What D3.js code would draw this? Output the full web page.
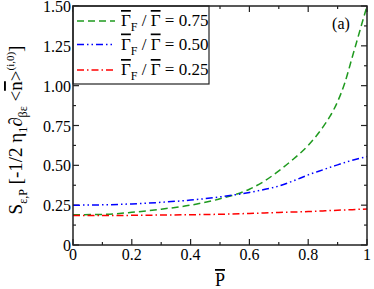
<!DOCTYPE html>
<html>
<head>
<meta charset="utf-8">
<script src="https://cdn.jsdelivr.net/npm/d3@7"></script>
<style>
  body { margin: 0; background: #fff; }
  svg text { font-family: "Liberation Serif", "Times New Roman", Times, "DejaVu Serif", serif; fill: #000; }
</style>
</head>
<body>
<svg id="chart" width="374" height="289"></svg>
<script>
// values
const pBar = [0, 0.1, 0.2, 0.3, 0.4, 0.5, 0.6, 0.65, 0.7, 0.75, 0.8, 0.85, 0.875, 0.9, 0.925, 0.95, 0.975, 1.0]
const s075 = [0.19, 0.192, 0.205, 0.225, 0.25, 0.29, 0.35, 0.40, 0.465, 0.54, 0.625, 0.74, 0.81, 0.9, 1.02, 1.18, 1.34, 1.5]
const s050 = [0.25, 0.252, 0.258, 0.268, 0.282, 0.302, 0.33, 0.348, 0.37, 0.403, 0.44, 0.472, 0.488, 0.503, 0.518, 0.532, 0.544, 0.555]
const s025 = [0.185, 0.185, 0.186, 0.188, 0.19, 0.193, 0.198, 0.201, 0.204, 0.207, 0.21, 0.214, 0.216, 0.218, 0.22, 0.222, 0.224, 0.226]
const ratioLabels = ["0.75", "0.50", "0.25"]
const xTicks = [0, 0.2, 0.4, 0.6, 0.8, 1]
const yTicks = [0, 0.25, 0.5, 0.75, 1.0, 1.25, 1.5]
const yTickLabels = ["0", "0.25", "0.50", "0.75", "1.00", "1.25", "1.50"]

const margin = { left: 73, top: 6, right: 7, bottom: 44 }
const width = 374, height = 289
const svg = d3.select("#chart")

const x = d3.scaleLinear().domain([0, 1]).range([margin.left, width - margin.right])
const y = d3.scaleLinear().domain([0, 1.5]).range([height - margin.bottom, margin.top])

const axisColor = "#222"

// ticks, inward on all four sides
const g = svg.append("g")
const xMinor = d3.range(0, 1.0001, 0.1)
const yMinor = d3.range(0, 1.5001, 0.125)
xMinor.forEach((v, i) => {
  const len = i % 2 === 0 ? 6 : 3
  g.append("line").attr("x1", x(v)).attr("x2", x(v)).attr("y1", y(0)).attr("y2", y(0) - len)
    .attr("stroke", axisColor).attr("stroke-width", 1.2)
  g.append("line").attr("x1", x(v)).attr("x2", x(v)).attr("y1", y(1.5)).attr("y2", y(1.5) + len)
    .attr("stroke", axisColor).attr("stroke-width", 1.2)
})
yMinor.forEach((v, i) => {
  const len = i % 2 === 0 ? 6 : 3
  g.append("line").attr("y1", y(v)).attr("y2", y(v)).attr("x1", x(0)).attr("x2", x(0) + len)
    .attr("stroke", axisColor).attr("stroke-width", 1.2)
  g.append("line").attr("y1", y(v)).attr("y2", y(v)).attr("x1", x(1)).attr("x2", x(1) - len)
    .attr("stroke", axisColor).attr("stroke-width", 1.2)
})

// tick labels
svg.selectAll(".xl").data(xTicks).join("text")
  .attr("x", d => x(d)).attr("y", y(0) + 15)
  .attr("text-anchor", "middle").style("font-size", "16px")
  .text(d => d === 0 ? "0" : d === 1 ? "1" : d.toFixed(1))
svg.selectAll(".yl").data(yTicks).join("text")
  .attr("x", x(0) - 2).attr("y", d => y(d) + 6)
  .attr("text-anchor", "end").style("font-size", "16px")
  .text((d, i) => yTickLabels[i])

// curves
const series = [
  { vals: s075, color: "#1f9a1f", dash: "7,4" },
  { vals: s050, color: "#0000ff", dash: "7,3,1.5,3,1.5,3" },
  { vals: s025, color: "#ff0000", dash: "7,3,1.5,3" }
]
svg.append("clipPath").attr("id", "plotclip").append("rect")
  .attr("x", x(0)).attr("y", y(1.5)).attr("width", x(1) - x(0)).attr("height", y(0) - y(1.5))
const line = d3.line().curve(d3.curveMonotoneX)
series.forEach(s => {
  svg.append("path")
    .attr("clip-path", "url(#plotclip)")
    .attr("d", line(pBar.map((p, i) => [x(p), y(s.vals[i])])))
    .attr("fill", "none").attr("stroke", s.color)
    .attr("stroke-width", 1.5).attr("stroke-dasharray", s.dash)
})

// legend
const leg = svg.append("g")
leg.append("rect").attr("x", x(0)).attr("y", y(1.5)).attr("width", 136).attr("height", 78)
  .attr("fill", "#fff").attr("stroke", axisColor).attr("stroke-width", 1.2)
const rowY = [21, 44.5, 70]
series.forEach((s, i) => {
  leg.append("line").attr("x1", x(0) + 4).attr("x2", x(0) + 42)
    .attr("y1", rowY[i]).attr("y2", rowY[i])
    .attr("stroke", s.color).attr("stroke-width", 1.5).attr("stroke-dasharray", s.dash)
  const t = leg.append("text").attr("x", x(0) + 48).attr("y", rowY[i] + 5).style("font-size", "17px")
  t.append("tspan").style("text-decoration", "overline").text("Γ")
  t.append("tspan").attr("dy", 5).style("font-size", "12px").text("F")
  t.append("tspan").attr("dy", -5).text(" / ")
  t.append("tspan").style("text-decoration", "overline").text("Γ")
  t.append("tspan").text(" = " + ratioLabels[i])
})

// frame
svg.append("rect").attr("x", x(0)).attr("y", y(1.5))
  .attr("width", x(1) - x(0)).attr("height", y(0) - y(1.5))
  .attr("fill", "none").attr("stroke", axisColor).attr("stroke-width", 1.5)

// panel tag
svg.append("text").attr("x", 341).attr("y", 29).attr("text-anchor", "middle")
  .style("font-size", "16px").text("(a)")

// x title
svg.append("text").attr("x", x(0.5)).attr("y", 286).attr("text-anchor", "middle")
  .style("font-size", "18px").style("text-decoration", "overline").text("P")

// y title
const yt = svg.append("text").attr("transform", "translate(22,130) rotate(-90)")
  .attr("text-anchor", "middle").style("font-size", "19px")
yt.append("tspan").text("S")
yt.append("tspan").attr("dy", 5).style("font-size", "12px").text("ε,P")
yt.append("tspan").attr("dy", -5).text(" [-1/2 η")
yt.append("tspan").attr("dy", 5).style("font-size", "12px").text("1")
yt.append("tspan").attr("dy", -5).text("∂")
yt.append("tspan").attr("dy", 5).style("font-size", "12px").text("βε")
yt.append("tspan").attr("dy", -5).text(" <")
yt.append("tspan").style("text-decoration", "overline").text("n")
yt.append("tspan").text(">")
yt.append("tspan").attr("dy", -8).style("font-size", "11px").text("(i,0)")
yt.append("tspan").attr("dy", 8).text("]")
</script>
</body>
</html>
